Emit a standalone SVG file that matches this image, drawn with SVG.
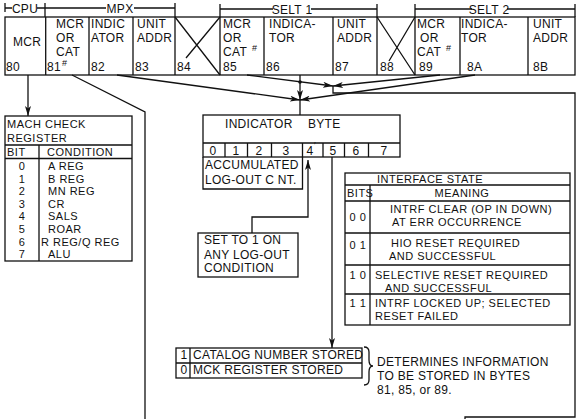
<svg xmlns="http://www.w3.org/2000/svg" width="579" height="419" viewBox="0 0 579 419">
<defs>
<marker id="ah" viewBox="0 0 10 6" refX="10" refY="3" markerWidth="10" markerHeight="6" markerUnits="userSpaceOnUse" orient="auto">
<path d="M0,0 L10,3 L0,6 L2.5,3 z" fill="#111"/>
</marker>
<style>
text{font-family:"Liberation Sans",Arial,sans-serif;font-size:12px;fill:#111;letter-spacing:0.3px}
.sm{font-size:9px}
.t11{font-size:11px;letter-spacing:0.5px}
.ln{fill:none;stroke:#111;stroke-width:1.3}
.c{text-anchor:middle}
</style>
</defs>
<rect width="579" height="419" fill="#fff"/>

<g id="header" class="ln">
<path d="M5,3 V12 M5,8 H12 M37,8 H45 M45,3 V17 M45,8 H106 M134,8 H175 M175,3 V17"/>
<path d="M220,4 V17 M220,9 H273 M311,9 H377 M377,4 V17"/>
<path d="M415,4 V17 M415,9 H472 M507,9 H575 M575,4 V17"/>
</g>
<g id="header-labels">
<text x="25" y="13" class="c">CPU</text>
<text x="120" y="13" class="c">MPX</text>
<text x="292" y="14" class="c">SELT 1</text>
<text x="489" y="14" class="c">SELT 2</text>
</g>

<g id="bytes">
<rect x="5" y="17" width="570" height="58" class="ln"/>
<path class="ln" d="M45.7,17 V75 M89,17 V75 M133,17 V75 M175,17 V75 M220,17 V75 M264,17 V75 M333,17 V75 M377,17 V75 M415,17 V75 M460,17 V75 M528,17 V75"/>
<path class="ln" d="M175,17 L220,75 M220,17 L186,58 M377,17 L415,75 M415,17 L389,61"/>
</g>
<g id="b80"><text x="13" y="46">MCR</text><text x="6" y="71">80</text></g>
<g id="b81"><text x="56" y="28">MCR</text><text x="56" y="42">OR</text><text x="56" y="56">CAT</text><text x="47" y="71">81</text><text x="62" y="66" class="sm">#</text></g>
<g id="b82"><text x="91" y="28">INDIC</text><text x="91" y="42">ATOR</text><text x="91" y="71">82</text></g>
<g id="b83"><text x="137" y="28">UNIT</text><text x="137" y="42">ADDR</text><text x="135" y="71">83</text></g>
<g id="b84"><text x="177" y="71">84</text></g>
<g id="b85"><text x="223" y="28">MCR</text><text x="223" y="42">OR</text><text x="223" y="56">CAT</text><text x="252" y="51" class="sm">#</text><text x="223" y="71">85</text></g>
<g id="b86"><text x="269" y="28">INDICA-</text><text x="269" y="42">TOR</text><text x="266" y="71">86</text></g>
<g id="b87"><text x="337" y="28">UNIT</text><text x="337" y="42">ADDR</text><text x="335" y="71">87</text></g>
<g id="b88"><text x="380" y="71">88</text></g>
<g id="b89"><text x="417" y="28">MCR</text><text x="420" y="42">OR</text><text x="417" y="56">CAT</text><text x="446" y="51" class="sm">#</text><text x="419" y="71">89</text></g>
<g id="b8A"><text x="461" y="28">INDICA-</text><text x="461" y="42">TOR</text><text x="467" y="71">8A</text></g>
<g id="b8B"><text x="533" y="28">UNIT</text><text x="533" y="42">ADDR</text><text x="533" y="71">8B</text></g>

<g id="mch">
<rect x="5" y="116" width="127" height="145" class="ln"/>
<path class="ln" d="M5,145 H132 M5,158.5 H132 M39,145 V261"/>
<text x="7" y="128" class="t11">MACH CHECK</text>
<text x="7" y="142" class="t11">REGISTER</text>
<text x="7" y="156" class="t11">BIT</text>
<text x="47" y="156" class="t11">CONDITION</text>
<text x="22" y="170" class="c t11">0</text><text x="48" y="170" class="t11">A REG</text>
<text x="22" y="182.6" class="c t11">1</text><text x="48" y="182.6" class="t11">B REG</text>
<text x="22" y="195.2" class="c t11">2</text><text x="48" y="195.2" class="t11">MN REG</text>
<text x="22" y="207.8" class="c t11">3</text><text x="48" y="207.8" class="t11">CR</text>
<text x="22" y="220.4" class="c t11">4</text><text x="48" y="220.4" class="t11">SALS</text>
<text x="22" y="233" class="c t11">5</text><text x="48" y="233" class="t11">ROAR</text>
<text x="22" y="245.6" class="c t11">6</text><text x="41" y="245.6" class="t11">R REG/Q REG</text>
<text x="22" y="258.2" class="c t11">7</text><text x="48" y="258.2" class="t11">ALU</text>
</g>

<g id="indicator">
<rect x="203" y="115" width="197" height="42" class="ln"/>
<path class="ln" d="M203,143 H400 M225,143 V157 M247.5,143 V157 M271.5,143 V157 M302.5,143 V157 M323,143 V157 M344.5,143 V157 M368.5,143 V157"/>
<path class="ln" d="M203,157 V189 H302.5 V157"/>
<text x="225" y="128">INDICATOR</text>
<text x="308" y="128">BYTE</text>
<text x="213" y="155" class="c">0</text>
<text x="236" y="155" class="c">1</text>
<text x="259" y="155" class="c">2</text>
<text x="286" y="155" class="c">3</text>
<text x="310" y="155" class="c">4</text>
<text x="314" y="148" class="sm">′</text>
<text x="333" y="155" class="c">5</text>
<text x="356" y="155" class="c">6</text>
<text x="384" y="155" class="c">7</text>
<text x="205" y="169">ACCUMULATED</text>
<text x="205" y="184">LOG-OUT C NT.</text>
</g>

<g id="setbox">
<rect x="198" y="233" width="100" height="44" class="ln"/>
<text x="204" y="244">SET TO 1 ON</text>
<text x="204" y="259">ANY LOG-OUT</text>
<text x="204" y="272">CONDITION</text>
</g>

<g id="interface">
<rect x="345" y="173" width="225" height="152" class="ln"/>
<path class="ln" d="M345,185 H570 M345,201 H570 M345,233 H570 M345,265 H570 M345,294 H570 M370,185 V325"/>
<text x="430" y="183" class="c t11">INTERFACE  STATE</text>
<text x="347" y="197" class="t11">BITS</text>
<text x="462" y="197" class="c t11">MEANING</text>
<text x="358" y="221" class="c t11">0 0</text>
<text x="390" y="213" class="t11">INTRF CLEAR (OP IN DOWN)</text>
<text x="392" y="226" class="t11">AT ERR OCCURRENCE</text>
<text x="358" y="249" class="c t11">0 1</text>
<text x="391" y="247" class="t11">HIO RESET REQUIRED</text>
<text x="389" y="260" class="t11">AND SUCCESSFUL</text>
<text x="358" y="279" class="c t11">1 0</text>
<text x="375" y="279" class="t11">SELECTIVE RESET REQUIRED</text>
<text x="385" y="291.5" class="t11">AND SUCCESSFUL</text>
<text x="358" y="307" class="c t11">1 1</text>
<text x="375" y="307" class="t11">INTRF LOCKED UP; SELECTED</text>
<text x="375" y="320" class="t11">RESET FAILED</text>
</g>

<g id="catalog">
<rect x="176" y="348" width="186" height="30" class="ln"/>
<path class="ln" d="M176,363 H362 M190,348 V378"/>
<text x="184" y="359" class="c">1</text>
<text x="193" y="359">CATALOG NUMBER STORED</text>
<text x="184" y="374" class="c">0</text>
<text x="193" y="374">MCK REGISTER STORED</text>
</g>

<g id="note">
<path class="ln" d="M364,347 Q369,347 369,352 L369,360 Q369,366 373,366 Q369,366 369,372 L369,380 Q369,385 364,385"/>
<text x="377" y="366">DETERMINES INFORMATION</text>
<text x="377" y="380">TO BE STORED IN BYTES</text>
<text x="377" y="394">81, 85, or 89.</text>
</g>

<g id="connectors" class="ln">
<path d="M28,75 V116" marker-end="url(#ah)"/>
<path d="M72,75 L145,112 V419"/>
<path d="M117,75 L300,100" marker-end="url(#ah)"/>
<path d="M300,75 V100" marker-end="url(#ah)"/>
<path d="M300,100 V115"/>
<path d="M475,75 L300,100" marker-end="url(#ah)"/>
<path d="M247,75 L333,86" marker-end="url(#ah)"/>
<path d="M440,75 L333,86" marker-end="url(#ah)"/>
<path d="M333,86 V93 H575 V417 H465 V419"/>
<path d="M252,233 V217 H308 V160" marker-end="url(#ah)"/>
<path d="M332,157 V348" marker-end="url(#ah)"/>
<circle cx="300" cy="82" r="1.8" fill="#111" stroke="none"/>
</g>
</svg>
